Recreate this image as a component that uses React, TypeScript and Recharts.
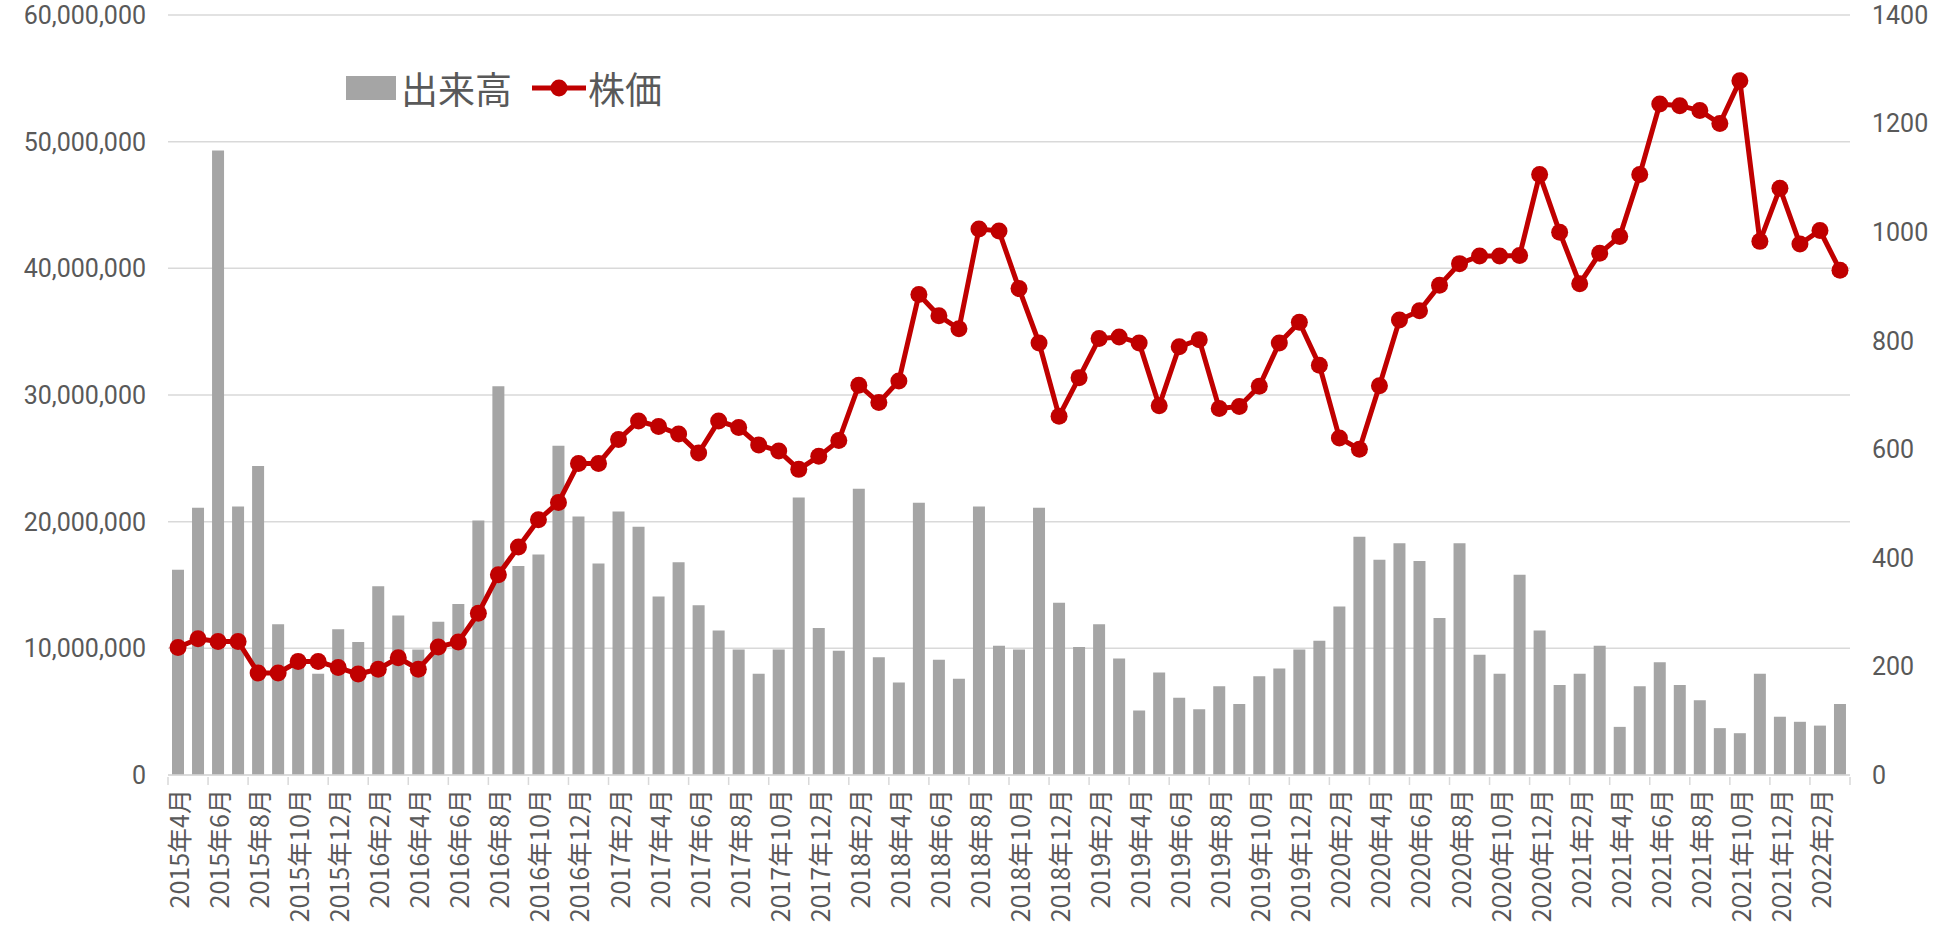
import React from 'react';
import { ComposedChart, Bar, Line, XAxis, YAxis, CartesianGrid } from 'recharts';

// months shown on the category axis
const months = [
  '2015年4月', '2015年5月', '2015年6月', '2015年7月', '2015年8月', '2015年9月', '2015年10月', '2015年11月', '2015年12月',
  '2016年1月', '2016年2月', '2016年3月', '2016年4月', '2016年5月', '2016年6月', '2016年7月', '2016年8月', '2016年9月', '2016年10月', '2016年11月', '2016年12月',
  '2017年1月', '2017年2月', '2017年3月', '2017年4月', '2017年5月', '2017年6月', '2017年7月', '2017年8月', '2017年9月', '2017年10月', '2017年11月', '2017年12月',
  '2018年1月', '2018年2月', '2018年3月', '2018年4月', '2018年5月', '2018年6月', '2018年7月', '2018年8月', '2018年9月', '2018年10月', '2018年11月', '2018年12月',
  '2019年1月', '2019年2月', '2019年3月', '2019年4月', '2019年5月', '2019年6月', '2019年7月', '2019年8月', '2019年9月', '2019年10月', '2019年11月', '2019年12月',
  '2020年1月', '2020年2月', '2020年3月', '2020年4月', '2020年5月', '2020年6月', '2020年7月', '2020年8月', '2020年9月', '2020年10月', '2020年11月', '2020年12月',
  '2021年1月', '2021年2月', '2021年3月', '2021年4月', '2021年5月', '2021年6月', '2021年7月', '2021年8月', '2021年9月', '2021年10月', '2021年11月', '2021年12月',
  '2022年1月', '2022年2月', '2022年3月',
];

// 出来高 (shares)
const volume = [
  16200000, 21100000, 49300000, 21200000, 24400000, 11900000, 9500000, 8000000, 11500000,
  10500000, 14900000, 12600000, 9900000, 12100000, 13500000, 20100000, 30700000, 16500000, 17400000, 26000000, 20400000,
  16700000, 20800000, 19600000, 14100000, 16800000, 13400000, 11400000, 9900000, 8000000, 9900000, 21900000, 11600000,
  9800000, 22600000, 9300000, 7300000, 21500000, 9100000, 7600000, 21200000, 10200000, 9900000, 21100000, 13600000,
  10100000, 11900000, 9200000, 5100000, 8100000, 6100000, 5200000, 7000000, 5600000, 7800000, 8400000, 9900000,
  10600000, 13300000, 18800000, 17000000, 18300000, 16900000, 12400000, 18300000, 9500000, 8000000, 15800000, 11400000,
  7100000, 8000000, 10200000, 3800000, 7000000, 8900000, 7100000, 5900000, 3700000, 3300000, 8000000, 4600000,
  4200000, 3900000, 5600000,
];

// 株価 (yen)
const price = [
  235, 251, 246, 246, 188, 188, 209, 209, 198,
  186, 195, 216, 195, 236, 245, 298, 369, 420, 470, 502, 574,
  574, 618, 652, 642, 628, 593, 652, 640, 608, 597, 563, 587,
  616, 718, 686, 726, 885, 846, 822, 1006, 1002, 896, 796, 661,
  732, 804, 807, 796, 680, 789, 802, 675, 679, 716, 796, 834,
  755, 621, 600, 717, 838, 855, 902, 942, 956, 956, 957, 1106,
  1000, 905, 961, 992, 1106, 1236, 1233, 1224, 1200, 1279, 983, 1081,
  978, 1003, 930,
];

const volumeTicks = [0, 10000000, 20000000, 30000000, 40000000, 50000000, 60000000];
const priceTicks = [0, 200, 400, 600, 800, 1000, 1200, 1400];

const data = months.map((month, i) => ({ month, volume: volume[i], price: price[i] }));

const FONT = '"Noto Sans CJK JP", "Noto Sans", sans-serif';
const NUM_FONT = 'Roboto, "Noto Sans", sans-serif';
const TEXT = '#595959';
const GRID = '#D9D9D9';
const RED = '#C00000';

const PLOT_LEFT = 168;
const PLOT_RIGHT = 1850;
const HALF_BAND = (PLOT_RIGHT - PLOT_LEFT) / months.length / 2;

// label every other month; tick marks sit on the category boundaries
const MonthTick = (props: any) => {
  const { x, y, payload, index } = props;
  const last = index === months.length - 1;
  if (index % 2 !== 0 && !last) return <g />;
  return (
    <g>
      {index % 2 === 0 && (
        <line x1={x - HALF_BAND} x2={x - HALF_BAND} y1={y} y2={y + 8} stroke={GRID} strokeWidth={1.5} />
      )}
      {last && (
        <line x1={x + HALF_BAND} x2={x + HALF_BAND} y1={y} y2={y + 8} stroke={GRID} strokeWidth={1.5} />
      )}
      {index % 2 === 0 && (
        <text
          x={x}
          y={y + 12}
          transform={`rotate(-90, ${x}, ${y + 12})`}
          textAnchor="end"
          dominantBaseline="central"
          fill={TEXT}
          fontSize={25}
          fontFamily={FONT}
        >
          {payload.value}
        </text>
      )}
    </g>
  );
};

const LegendBox = () => (
  <div
    style={{
      position: 'absolute',
      left: 346,
      top: 65,
      display: 'flex',
      alignItems: 'center',
      fontFamily: FONT,
      fontSize: 37,
      color: TEXT,
      lineHeight: '46px',
    }}
  >
    <span style={{ display: 'inline-block', width: 50, height: 24, background: '#A5A5A5', marginRight: 5 }} />
    <span>出来高</span>
    <svg width={54} height={24} style={{ marginLeft: 20, marginRight: 2 }}>
      <line x1={0} x2={54} y1={12} y2={12} stroke={RED} strokeWidth={5} />
      <circle cx={27} cy={12} r={8.5} fill={RED} />
    </svg>
    <span>株価</span>
  </div>
);

const App = () => {
  return (
    <div style={{ position: 'absolute', left: 0, top: 0, width: 1953, height: 934, background: '#fff' }}>
      <ComposedChart width={1953} height={934} data={data} margin={{ top: 15, right: 0, bottom: 0, left: 0 }}>
        <CartesianGrid yAxisId="vol" vertical={false} stroke={GRID} strokeWidth={1.5} />
        <XAxis
          dataKey="month"
          interval={0}
          height={159}
          tickSize={0}
          tickLine={false}
          axisLine={{ stroke: GRID, strokeWidth: 1.5 }}
          tick={<MonthTick />}
        />
        <YAxis
          yAxisId="vol"
          width={168}
          domain={[0, 60000000]}
          ticks={volumeTicks}
          tickFormatter={(v: number) => v.toLocaleString('en-US')}
          axisLine={false}
          tickLine={false}
          tickSize={0}
          tickMargin={22}
          tick={{ fill: TEXT, fontSize: 25, fontFamily: NUM_FONT }}
        />
        <YAxis
          yAxisId="price"
          orientation="right"
          width={103}
          domain={[0, 1400]}
          ticks={priceTicks}
          axisLine={false}
          tickLine={false}
          tickSize={0}
          tickMargin={22}
          tick={{ fill: TEXT, fontSize: 25, fontFamily: NUM_FONT }}
        />
        <Bar yAxisId="vol" dataKey="volume" name="出来高" fill="#A5A5A5" barSize={12} isAnimationActive={false} />
        <Line
          yAxisId="price"
          type="linear"
          dataKey="price"
          name="株価"
          stroke={RED}
          strokeWidth={5}
          dot={{ r: 8.5, fill: RED, stroke: RED, strokeWidth: 0 }}
          activeDot={false}
          isAnimationActive={false}
        />
      </ComposedChart>
      <LegendBox />
    </div>
  );
};

export default App;
